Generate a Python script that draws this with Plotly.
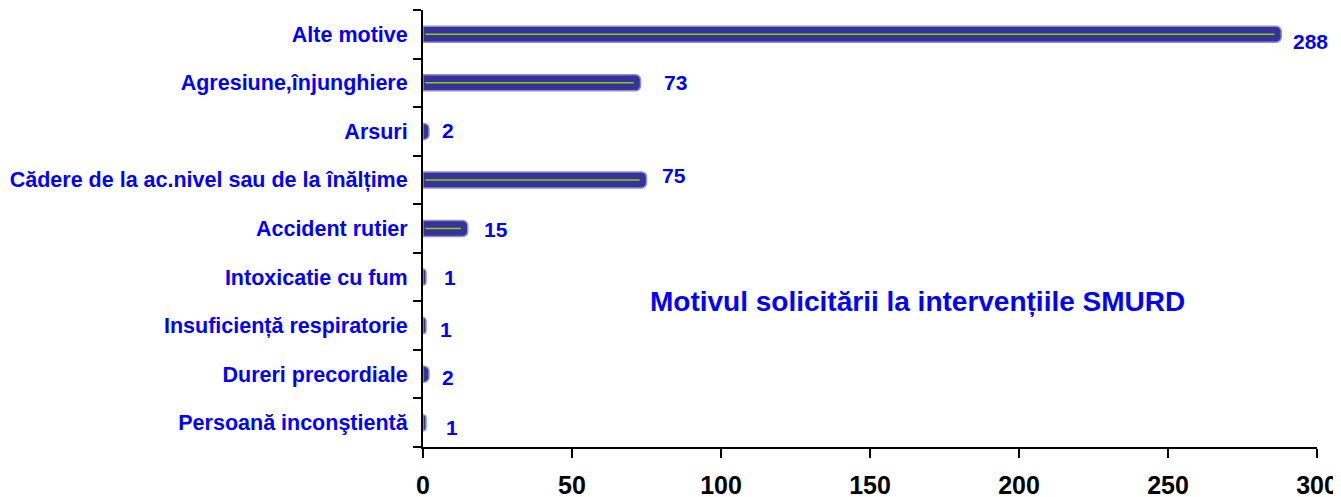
import plotly.graph_objects as go

categories = [
    "Persoană inconştientă",
    "Dureri precordiale",
    "Insuficiență respiratorie",
    "Intoxicatie cu fum",
    "Accident rutier",
    "Cădere de la ac.nivel sau de la înălțime",
    "Arsuri",
    "Agresiune,înjunghiere",
    "Alte motive",
]
values = [1, 2, 1, 1, 15, 75, 2, 73, 288]
value_labels = ["1", "2", "1", "1", "15", "75", "2", "73", "288"]
label_xshift = [26, 19, 20, 24, 28, 27, 19, 35, 29]
label_yshift = [-5, -3, -4, 0, -1, 4, 1, 0, -7]

x_ticks = [0, 50, 100, 150, 200, 250, 300]

FONT = "Arial, Liberation Sans, sans-serif"
BLUE = "#0000FF"

fig = go.Figure()
fig.add_trace(go.Bar(
    y=categories, x=values, orientation="h",
    marker=dict(color="#333399", line=dict(color="#8f8fd0", width=1.5), cornerradius=5),
    width=0.33, hoverinfo="x+y", showlegend=False,
))

# thin yellow-green line inside larger bars
for c, v in zip(categories, values):
    if v > 5:
        fig.add_trace(go.Scatter(
            x=[0.8, v - 2.3], y=[c, c], mode="lines",
            line=dict(color="#99cc00", width=1.5),
            hoverinfo="skip", showlegend=False,
        ))

for c, v, t, dx, dy in zip(categories, values, value_labels, label_xshift, label_yshift):
    fig.add_annotation(
        x=v, y=c, text=t, showarrow=False, xanchor="center", yanchor="middle",
        xshift=dx, yshift=dy,
        font=dict(family=FONT, size=21, color=BLUE, weight="bold"),
    )

fig.add_annotation(
    x=0.553, y=0.332, xref="paper", yref="paper",
    xanchor="center", yanchor="middle",
    text="Motivul solicitării la intervențiile SMURD", showarrow=False,
    font=dict(family=FONT, size=28, color=BLUE, weight="bold"),
)

fig.update_layout(
    width=1341, height=497,
    margin=dict(l=415, r=32, t=2, b=58),
    paper_bgcolor="white", plot_bgcolor="white",
)
fig.update_xaxes(
    range=[0, 300], tickvals=x_ticks, ticktext=[str(v) for v in x_ticks],
    automargin=False, ticklabeloverflow="allow",
    showgrid=False, zeroline=False, showline=True, linecolor="black", linewidth=2,
    ticks="outside", ticklen=9, tickwidth=2, tickcolor="black",
    ticklabelstandoff=6,
    tickfont=dict(family=FONT, size=25, color="black", weight="bold"),
)
fig.update_yaxes(
    categoryorder="array", categoryarray=categories,
    automargin=False,
    showgrid=False, zeroline=False, showline=True, linecolor="black", linewidth=2,
    ticks="outside", tickson="boundaries", ticklen=8, tickwidth=2, tickcolor="black",
    ticklabelstandoff=9,
    tickfont=dict(family=FONT, size=21.5, color=BLUE, weight="bold"),
)

fig.write_html("out.html")
